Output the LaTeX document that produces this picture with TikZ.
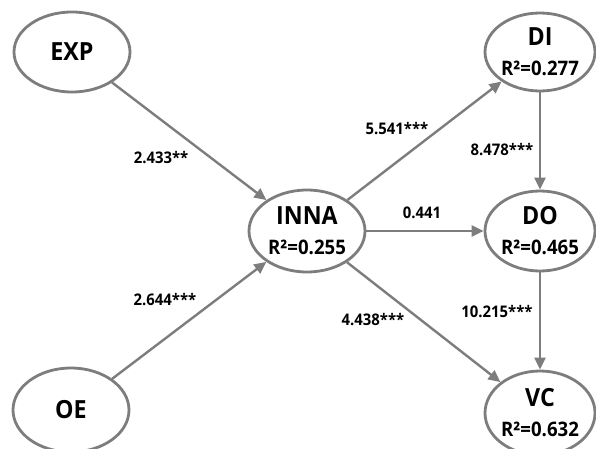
\documentclass[tikz,border=0pt]{standalone}
\usepackage{fontspec}
\setmainfont{Open Sans}[FakeStretch=0.93]
\usetikzlibrary{shapes.geometric,arrows.meta}
\definecolor{lngray}{RGB}{125,125,125}
\tikzset{
  latent/.style={ellipse, draw=lngray, line width=2.8pt, inner sep=0pt, align=center,
    font=\bfseries\fontsize{25}{30}\selectfont},
  path/.style={draw=lngray, line width=2.4pt, -{Triangle[length=12pt,width=11pt]}},
  coef/.style={font=\bfseries\fontsize{16}{16}\selectfont, inner sep=1pt},
}
\newcommand{\rsq}[1]{{\fontsize{20}{30}\selectfont R²=#1}}
\begin{document}
\begin{tikzpicture}[x=1pt,y=-1pt]
\useasboundingbox (0,0) rectangle (596,448);
\node[latent, minimum width=116pt, minimum height=80pt] (exp) at (72,52) {EXP};
\node[latent, minimum width=116pt, minimum height=84pt] (oe) at (71,410) {OE};
\node[latent, minimum width=116pt, minimum height=82pt] (inna) at (307,231) {INNA\\\rsq{0.255}};
\node[latent, minimum width=110pt, minimum height=78pt] (di) at (540,52) {DI\\\rsq{0.277}};
\node[latent, minimum width=110pt, minimum height=80pt] (do) at (540,231) {DO\\\rsq{0.465}};
\node[latent, minimum width=110pt, minimum height=84pt] (vc) at (540,413) {VC\\\rsq{0.632}};
\draw[path] (exp) -- (inna);
\draw[path] (oe) -- (inna);
\draw[path] (inna) -- (di);
\draw[path] (inna) -- (do);
\draw[path] (inna) -- (vc);
\draw[path] (di) -- (do);
\draw[path] (do) -- (vc);
\node[coef] (c1) at (161,158) {2.433**};
\node[coef] (c2) at (165,300) {2.644***};
\node[coef] (c3) at (397,129) {5.541***};
\node[coef] (c4) at (422,213) {0.441};
\node[coef] (c5) at (373,320) {4.438***};
\node[coef] (c6) at (502,150) {8.478***};
\node[coef] (c7) at (497,312) {10.215***};
\end{tikzpicture}
\end{document}
